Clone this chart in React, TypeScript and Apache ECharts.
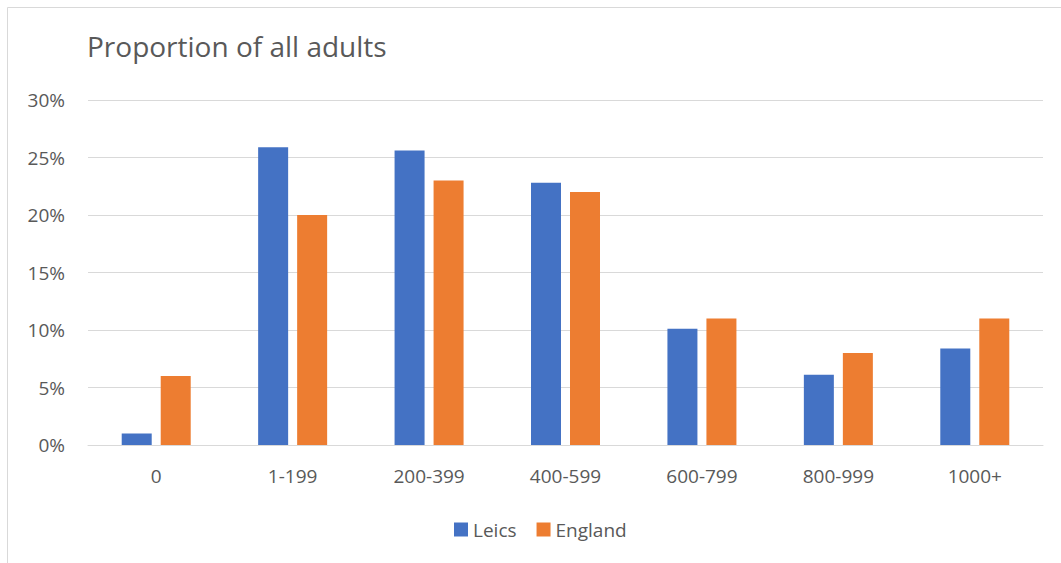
import React, { useEffect, useRef } from "react";
import * as echarts from "echarts";

const categories = ["0", "1-199", "200-399", "400-599", "600-799", "800-999", "1000+"];
const leics = [1.0, 25.9, 25.6, 22.8, 10.1, 6.1, 8.4];
const england = [6, 20, 23, 22, 11, 8, 11];
const yTicks = { min: 0, max: 30, interval: 5 };

const FONT = "'Open Sans', 'Noto Sans', sans-serif";
const TEXT = "#595959";

export default function App() {
  const ref = useRef<HTMLDivElement>(null);

  useEffect(() => {
    document.body.style.margin = "0";
    const chart = echarts.init(ref.current!, null, { renderer: "svg" });
    chart.setOption({
      animation: false,
      backgroundColor: "#ffffff",
      textStyle: { fontFamily: FONT },
      title: {
        text: "Proportion of all adults",
        left: 82,
        top: 27,
        textStyle: { fontFamily: FONT, fontSize: 28, fontWeight: "normal", color: TEXT },
      },
      graphic: [
        {
          type: "rect",
          shape: { x: 7.5, y: 7.5, width: 1100, height: 600 },
          style: { fill: "none", stroke: "#D9D9D9", lineWidth: 1 },
          silent: true,
        },
      ],
      legend: {
        data: ["Leics", "England"],
        left: 449,
        top: 515,
        icon: "rect",
        itemWidth: 14,
        itemHeight: 14,
        itemGap: 20,
        textStyle: { fontFamily: FONT, fontSize: 19, color: TEXT },
      },
      grid: { left: 88, right: 18, top: 100, bottom: 118, containLabel: false },
      xAxis: {
        type: "category",
        data: categories,
        axisLine: { lineStyle: { color: "#D9D9D9", width: 1 } },
        axisTick: { show: false },
        axisLabel: { color: TEXT, fontSize: 19, margin: 21, fontFamily: FONT },
      },
      yAxis: {
        type: "value",
        min: yTicks.min,
        max: yTicks.max,
        interval: yTicks.interval,
        axisLine: { show: false },
        axisTick: { show: false },
        splitLine: { lineStyle: { color: "#D9D9D9", width: 1 } },
        axisLabel: { color: TEXT, fontSize: 19, margin: 23, formatter: "{value}%", fontFamily: FONT },
      },
      series: [
        {
          name: "Leics",
          type: "bar",
          data: leics,
          barWidth: 30,
          barGap: "30%",
          itemStyle: { color: "#4472C4" },
        },
        {
          name: "England",
          type: "bar",
          data: england,
          barWidth: 30,
          itemStyle: { color: "#ED7D31" },
        },
      ],
    });
    return () => chart.dispose();
  }, []);

  return <div ref={ref} style={{ width: 1061, height: 563 }} />;
}
